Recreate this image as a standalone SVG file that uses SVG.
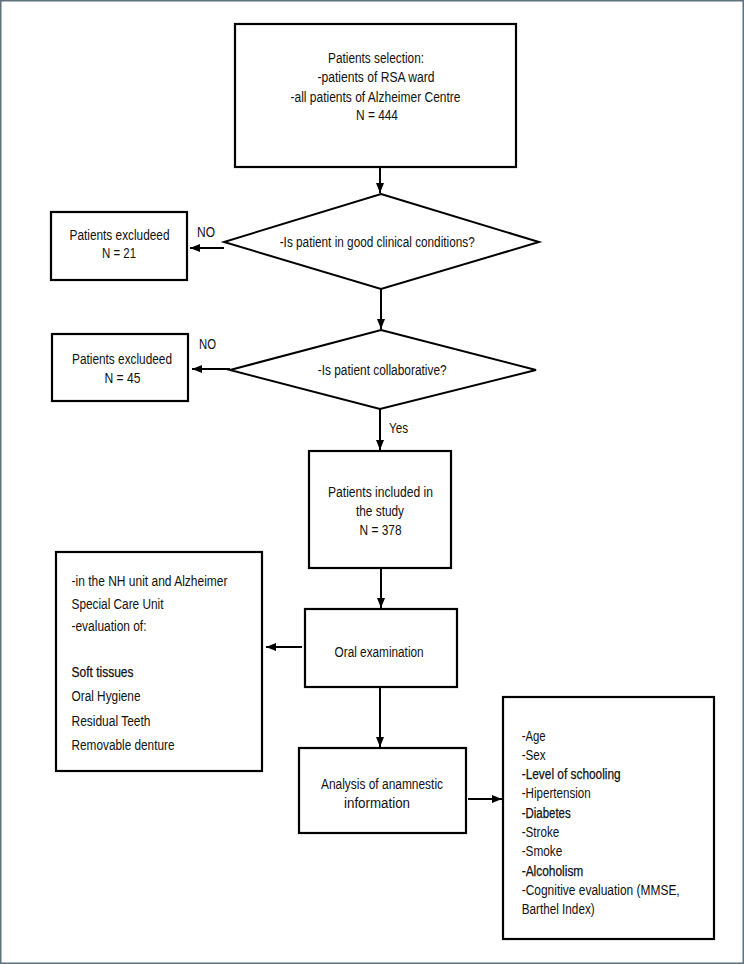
<svg xmlns="http://www.w3.org/2000/svg" width="744" height="964" viewBox="0 0 744 964">
<defs>
<style>
.box{fill:#fff;stroke:#000;stroke-width:2.2}
.dia{fill:#fff;stroke:#000;stroke-width:2}
.con{fill:none;stroke:#000;stroke-width:2}
text{font-family:"Liberation Sans",Arial,sans-serif;font-size:13.8px;fill:#111}
.c{text-anchor:middle}
.s{stroke:#111;stroke-width:0.25}
</style>
<marker id="ah" viewBox="0 0 10 8" refX="10" refY="4" markerWidth="10" markerHeight="8" markerUnits="userSpaceOnUse" orient="auto">
<path d="M0,0 L10,4 L0,8 z" fill="#000"/>
</marker>
</defs>
<rect x="0" y="0" width="744" height="964" fill="#fff"/>
<rect x="0.75" y="0.75" width="742.5" height="962.5" fill="none" stroke="#5d717b" stroke-width="1.5"/>

<g id="connectors">
<line class="con" x1="380" y1="167" x2="380" y2="193" marker-end="url(#ah)"/>
<line class="con" x1="224" y1="248" x2="190" y2="248" marker-end="url(#ah)"/>
<line class="con" x1="381" y1="289" x2="381" y2="329" marker-end="url(#ah)"/>
<line class="con" x1="230" y1="369" x2="192" y2="369" marker-end="url(#ah)"/>
<line class="con" x1="380" y1="409" x2="380" y2="450" marker-end="url(#ah)"/>
<line class="con" x1="381" y1="569" x2="381" y2="608" marker-end="url(#ah)"/>
<line class="con" x1="302" y1="647" x2="266" y2="647" marker-end="url(#ah)"/>
<line class="con" x1="380" y1="688" x2="380" y2="747" marker-end="url(#ah)"/>
<line class="con" x1="468" y1="799" x2="502" y2="799" marker-end="url(#ah)"/>
<text x="197" y="237" textLength="18" lengthAdjust="spacingAndGlyphs">NO</text>
<text x="199" y="349" textLength="17" lengthAdjust="spacingAndGlyphs">NO</text>
<text x="389" y="433" textLength="19" lengthAdjust="spacingAndGlyphs">Yes</text>
</g>

<g id="selection">
<rect class="box" x="235" y="24" width="281" height="143"/>
<text class="c" x="376" y="63" textLength="96" lengthAdjust="spacingAndGlyphs">Patients selection:</text>
<text class="c" x="376" y="82" textLength="117" lengthAdjust="spacingAndGlyphs">-patients of RSA ward</text>
<text class="c" x="375.5" y="102" textLength="170" lengthAdjust="spacingAndGlyphs">-all patients of Alzheimer Centre</text>
<text class="c" x="377" y="120" textLength="42" lengthAdjust="spacingAndGlyphs">N = 444</text>
</g>

<g id="decision-clinical">
<polygon class="dia" points="381,194 539,242 381,289 224,242"/>
<text x="279.7" y="247" textLength="195" lengthAdjust="spacingAndGlyphs">-Is patient in good clinical conditions?</text>
</g>

<g id="excluded-21">
<rect class="box" x="51" y="212" width="136" height="68"/>
<text class="c" x="119.5" y="240" textLength="100" lengthAdjust="spacingAndGlyphs">Patients excludeed</text>
<text class="c" x="119" y="258" textLength="34" lengthAdjust="spacingAndGlyphs">N = 21</text>
</g>

<g id="decision-collaborative">
<polygon class="dia" points="381,330 536,370 380,409 230,370"/>
<text x="317.7" y="375" textLength="129" lengthAdjust="spacingAndGlyphs">-Is patient collaborative?</text>
</g>

<g id="excluded-45">
<rect class="box" x="52" y="334" width="136" height="67"/>
<text class="c" x="122" y="364" textLength="100" lengthAdjust="spacingAndGlyphs">Patients excludeed</text>
<text class="c" x="122.5" y="382.5" textLength="36" lengthAdjust="spacingAndGlyphs">N = 45</text>
</g>

<g id="included">
<rect class="box" x="309" y="451" width="142" height="117"/>
<text x="328" y="497" textLength="105" lengthAdjust="spacingAndGlyphs">Patients included in</text>
<text x="356" y="516" textLength="48" lengthAdjust="spacingAndGlyphs">the study</text>
<text x="359.6" y="535" textLength="42" lengthAdjust="spacingAndGlyphs">N = 378</text>
</g>

<g id="oral-exam">
<rect class="box" x="305" y="609" width="152" height="78"/>
<text x="334.6" y="656.5" textLength="89" lengthAdjust="spacingAndGlyphs">Oral examination</text>
</g>

<g id="oral-details">
<rect class="box" x="56" y="552" width="206" height="219"/>
<text x="71.5" y="585.5" textLength="156" lengthAdjust="spacingAndGlyphs">-in the NH unit and Alzheimer</text>
<text x="71.5" y="609" textLength="92" lengthAdjust="spacingAndGlyphs">Special Care Unit</text>
<text x="71.5" y="630.5" textLength="75" lengthAdjust="spacingAndGlyphs">-evaluation of:</text>
<text class="s" x="71.5" y="677" textLength="62" lengthAdjust="spacingAndGlyphs">Soft tissues</text>
<text x="71.5" y="700.5" textLength="69" lengthAdjust="spacingAndGlyphs">Oral Hygiene</text>
<text x="71.5" y="725.5" textLength="79" lengthAdjust="spacingAndGlyphs">Residual Teeth</text>
<text x="71.5" y="750" textLength="103" lengthAdjust="spacingAndGlyphs">Removable denture</text>
</g>

<g id="anamnesis">
<rect class="box" x="299" y="748" width="167" height="85"/>
<text x="321" y="789" textLength="122" lengthAdjust="spacingAndGlyphs">Analysis of anamnestic</text>
<text x="344" y="807.5" textLength="66" lengthAdjust="spacingAndGlyphs">information</text>
</g>

<g id="anamnesis-details">
<rect class="box" x="503" y="697" width="211" height="242"/>
<text x="521.7" y="741" textLength="24" lengthAdjust="spacingAndGlyphs">-Age</text>
<text x="521.7" y="760" textLength="24" lengthAdjust="spacingAndGlyphs">-Sex</text>
<text class="s" x="521.7" y="779" textLength="99" lengthAdjust="spacingAndGlyphs">-Level of schooling</text>
<text x="521.7" y="797.5" textLength="69" lengthAdjust="spacingAndGlyphs">-Hipertension</text>
<text class="s" x="521.7" y="817.5" textLength="49" lengthAdjust="spacingAndGlyphs">-Diabetes</text>
<text x="521.7" y="836.5" textLength="37.6" lengthAdjust="spacingAndGlyphs">-Stroke</text>
<text x="521.7" y="856" textLength="40.6" lengthAdjust="spacingAndGlyphs">-Smoke</text>
<text class="s" x="521.7" y="875.5" textLength="61.6" lengthAdjust="spacingAndGlyphs">-Alcoholism</text>
<text x="521.7" y="894.5" textLength="158" lengthAdjust="spacingAndGlyphs">-Cognitive evaluation (MMSE,</text>
<text x="521.7" y="913.5" textLength="73" lengthAdjust="spacingAndGlyphs">Barthel Index)</text>
</g>
</svg>
